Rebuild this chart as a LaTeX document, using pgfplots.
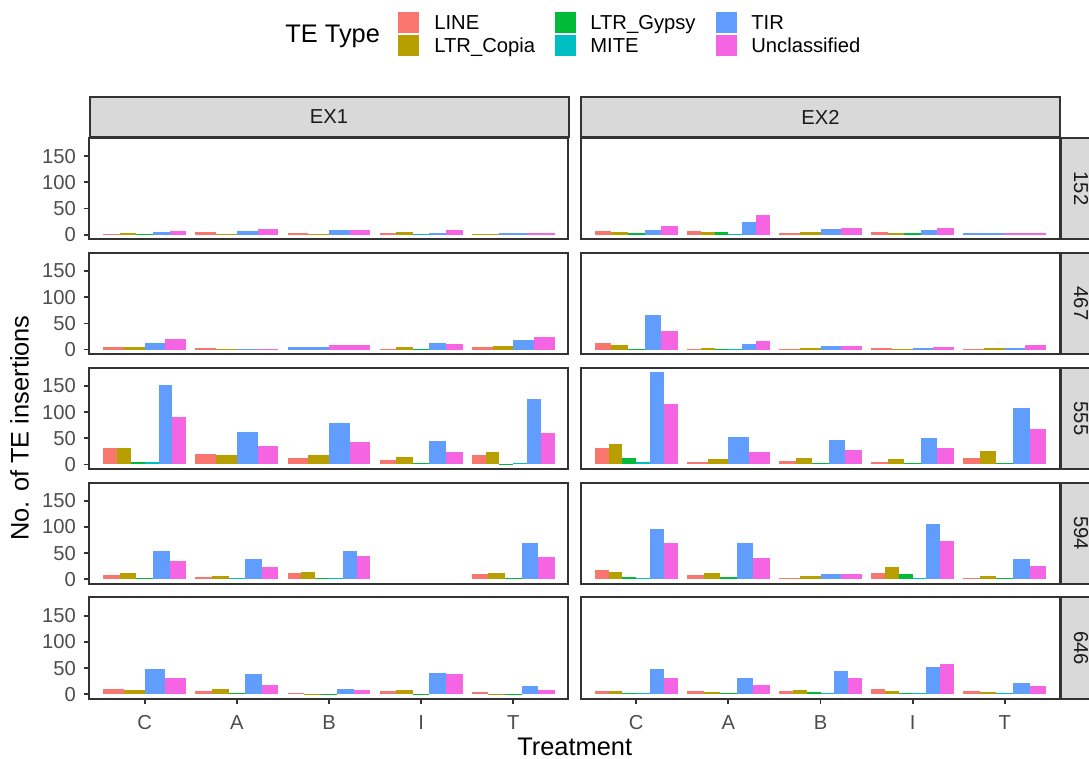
\documentclass[border=0pt]{standalone}
\usepackage{pgfplots}
\pgfplotsset{compat=1.18}
\usepackage{fontspec}
\setmainfont{Liberation Sans}
\definecolor{cL}{HTML}{F8766D}
\definecolor{cC}{HTML}{B79F00}
\definecolor{cG}{HTML}{00BA38}
\definecolor{cM}{HTML}{00BFC4}
\definecolor{cT}{HTML}{619CFF}
\definecolor{cU}{HTML}{F564E3}
\definecolor{g20}{HTML}{333333}
\definecolor{g30}{HTML}{4D4D4D}
\definecolor{g85}{HTML}{D9D9D9}
\definecolor{g10}{HTML}{1A1A1A}
\newcommand\tickfont{\fontsize{10.1}{12}\selectfont}
\newcommand\titlefont{\fontsize{12.7}{15}\selectfont}
% one bar: group, index, number of bars in group, colour, value
\newcommand\B[5]{%
  \pgfmathsetmacro\bL{#1+(#2-#3/2)*0.9/#3}%
  \pgfmathsetmacro\bR{#1+(#2+1-#3/2)*0.9/#3}%
  \edef\mytmp{\noexpand\addplot[fill=#4,draw=none] coordinates {(\bL,0) (\bL,#5) (\bR,#5) (\bR,0)};}%
  \mytmp}
\newcommand\grp[3]{\foreach \cc/\vv [count=\ii from 0] in {#3} {\B{#1}{\ii}{#2}{\cc}{\vv}}}
\pgfplotsset{
  panel/.style={
    scale only axis, width=239.5pt, height=50.7pt, anchor=north west,
    xmin=0.4, xmax=5.6, ymin=-8.8, ymax=184.8,
    axis line style={draw=g20, line width=1pt},
    tick align=outside, tick pos=left, major tick length=2.6pt,
    tick style={draw=g20, line width=0.9pt},
    xtick=\empty, ytick=\empty,
    ticklabel style={font=\tickfont, text=g30},
    /pgf/number format/assume math mode=true,
  },
  leftcol/.style={ytick={0,50,100,150}, yticklabel style={anchor=east, inner sep=0pt, xshift=-4pt}},
  bottomrow/.style={xtick={1,2,3,4,5}, xticklabels={C,A,B,I,T}, xticklabel style={anchor=base, inner sep=0pt, yshift=-12.5pt}},
}
\begin{document}
\begin{tikzpicture}
\path[use as bounding box] (0,0) rectangle (544.5pt,-379.5pt);
% ---------- row 152 ----------
\begin{axis}[panel, leftcol, at={(44.75pt,-68.95pt)}]
\grp{1}{5}{cL/1,cC/3,cG/1,cT/6,cU/8}
\grp{2}{4}{cL/6,cC/1,cT/8,cU/11}
\grp{3}{4}{cL/3,cC/1,cT/9,cU/9}
\grp{4}{5}{cL/3,cC/5,cM/1,cT/3,cU/9}
\grp{5}{3}{cC/1,cT/3,cU/3}
\end{axis}
\begin{axis}[panel, at={(290.5pt,-68.95pt)}]
\grp{1}{5}{cL/7,cC/5,cG/3,cT/9,cU/17}
\grp{2}{6}{cL/7,cC/5,cG/5,cM/1,cT/24,cU/38}
\grp{3}{4}{cL/3,cC/5,cT/11,cU/13}
\grp{4}{5}{cL/5,cC/3,cG/3,cT/9,cU/13}
\grp{5}{2}{cT/3,cU/3}
\end{axis}
% ---------- row 467 ----------
\begin{axis}[panel, leftcol, at={(44.75pt,-126.4pt)}]
\grp{1}{4}{cL/5,cC/5,cT/13,cU/20}
\grp{2}{4}{cL/3,cC/2,cT/2,cU/2}
\grp{3}{2}{cT/5,cU/9}
\grp{4}{5}{cL/1,cC/5,cG/1,cT/13,cU/11}
\grp{5}{4}{cL/5,cC/7,cT/18,cU/24}
\end{axis}
\begin{axis}[panel, at={(290.5pt,-126.4pt)}]
\grp{1}{5}{cL/13,cC/9,cG/2,cT/66,cU/36}
\grp{2}{6}{cL/1,cC/3,cG/1,cM/1,cT/11,cU/16}
\grp{3}{4}{cL/1,cC/3,cT/7,cU/7}
\grp{4}{4}{cL/3,cC/1,cT/3,cU/5}
\grp{5}{4}{cL/1,cC/3,cT/3,cU/9}
\end{axis}
% ---------- row 555 ----------
\begin{axis}[panel, leftcol, at={(44.75pt,-183.85pt)}]
\grp{1}{6}{cL/32,cC/32,cG/5,cM/5,cT/152,cU/91}
\grp{2}{4}{cL/20,cC/18,cT/62,cU/36}
\grp{3}{4}{cL/13,cC/18,cT/80,cU/43}
\grp{4}{5}{cL/9,cC/15,cG/3,cT/45,cU/24}
\grp{5}{6}{cL/18,cC/24,cG/1,cM/3,cT/125,cU/60}
\end{axis}
\begin{axis}[panel, at={(290.5pt,-183.85pt)}]
\grp{1}{6}{cL/32,cC/40,cG/13,cM/5,cT/177,cU/116}
\grp{2}{4}{cL/4,cC/10,cT/53,cU/23}
\grp{3}{5}{cL/6,cC/13,cG/2,cT/46,cU/27}
\grp{4}{5}{cL/4,cC/10,cG/2,cT/50,cU/32}
\grp{5}{5}{cL/12,cC/25,cG/2,cT/107,cU/67}
\end{axis}
% ---------- row 594 ----------
\begin{axis}[panel, leftcol, at={(44.75pt,-241.3pt)}]
\grp{1}{5}{cL/8,cC/13,cG/2,cT/55,cU/36}
\grp{2}{5}{cL/4,cC/6,cM/2,cT/38,cU/23}
\grp{3}{6}{cL/12,cC/15,cG/2,cM/2,cT/55,cU/44}
\grp{5}{5}{cL/10,cC/13,cG/2,cT/69,cU/42}
\end{axis}
\begin{axis}[panel, at={(290.5pt,-241.3pt)}]
\grp{1}{6}{cL/17,cC/15,cG/4,cM/2,cT/97,cU/69}
\grp{2}{5}{cL/8,cC/13,cG/4,cT/69,cU/40}
\grp{3}{4}{cL/2,cC/6,cT/10,cU/10}
\grp{4}{6}{cL/13,cC/23,cG/10,cM/2,cT/105,cU/74}
\grp{5}{5}{cL/2,cC/6,cG/2,cT/38,cU/25}
\end{axis}
% ---------- row 646 ----------
\begin{axis}[panel, leftcol, bottomrow, at={(44.75pt,-298.75pt)}]
\grp{1}{4}{cL/11,cC/9,cT/49,cU/32}
\grp{2}{5}{cL/7,cC/11,cG/3,cT/38,cU/18}
\grp{3}{5}{cL/3,cC/1,cG/1,cT/11,cU/9}
\grp{4}{5}{cL/7,cC/9,cG/1,cT/40,cU/38}
\grp{5}{5}{cL/5,cC/1,cG/1,cT/15,cU/9}
\end{axis}
\begin{axis}[panel, bottomrow, at={(290.5pt,-298.75pt)}]
\grp{1}{6}{cL/6,cC/6,cG/2,cM/2,cT/48,cU/32}
\grp{2}{5}{cL/6,cC/4,cG/2,cT/31,cU/17}
\grp{3}{6}{cL/6,cC/8,cG/4,cM/2,cT/44,cU/31}
\grp{4}{6}{cL/10,cC/6,cG/2,cM/2,cT/53,cU/57}
\grp{5}{5}{cL/6,cC/4,cM/2,cT/21,cU/15}
\end{axis}
% ---------- strips ----------
\begin{scope}[line width=1pt]
\draw[fill=g85, draw=g20] (44.75pt,-48.5pt) rectangle (284.25pt,-68.45pt);
\node[text=g10, font=\tickfont] at (164.5pt,-58.5pt) {EX1};
\draw[fill=g85, draw=g20] (290.5pt,-48.5pt) rectangle (530pt,-68.45pt);
\node[text=g10, font=\tickfont] at (410.25pt,-58.5pt) {EX2};
\foreach \t/\lab in {68.95/152,126.4/467,183.85/555,241.3/594,298.75/646}{
  \draw[fill=g85, draw=g20] (530.5pt,-\t pt) rectangle (551pt,{-\t pt-50.7pt});
  \node[text=g10, font=\tickfont, rotate=-90] at (540.5pt,{-\t pt-25.35pt}) {\lab};
}
\end{scope}
% ---------- axis titles ----------
\node[font=\titlefont, rotate=90] at (9.75pt,-214pt) {No. of TE insertions};
\node[font=\titlefont, anchor=base] at (287.35pt,-377.5pt) {Treatment};
% ---------- legend ----------
\node[font=\titlefont, anchor=base west, inner sep=0pt] at (142.5pt,-21.35pt) {TE Type};
\fill[cL] (199pt,-6pt) rectangle (209.5pt,-16.5pt);
\fill[cC] (199pt,-17.5pt) rectangle (209.5pt,-28pt);
\fill[cG] (277.5pt,-6pt) rectangle (288pt,-16.5pt);
\fill[cM] (277.5pt,-17.5pt) rectangle (288pt,-28pt);
\fill[cT] (358pt,-6pt) rectangle (368.5pt,-16.5pt);
\fill[cU] (358pt,-17.5pt) rectangle (368.5pt,-28pt);
\begin{scope}[every node/.style={font=\tickfont, anchor=base west, inner sep=0pt}]
\node at (217pt,-15pt) {LINE};
\node at (217pt,-26.35pt) {LTR\_Copia};
\node at (295pt,-15pt) {LTR\_Gypsy};
\node at (295pt,-26.35pt) {MITE};
\node at (375.5pt,-15pt) {TIR};
\node at (375.5pt,-26.35pt) {Unclassified};
\end{scope}
\end{tikzpicture}
\end{document}
